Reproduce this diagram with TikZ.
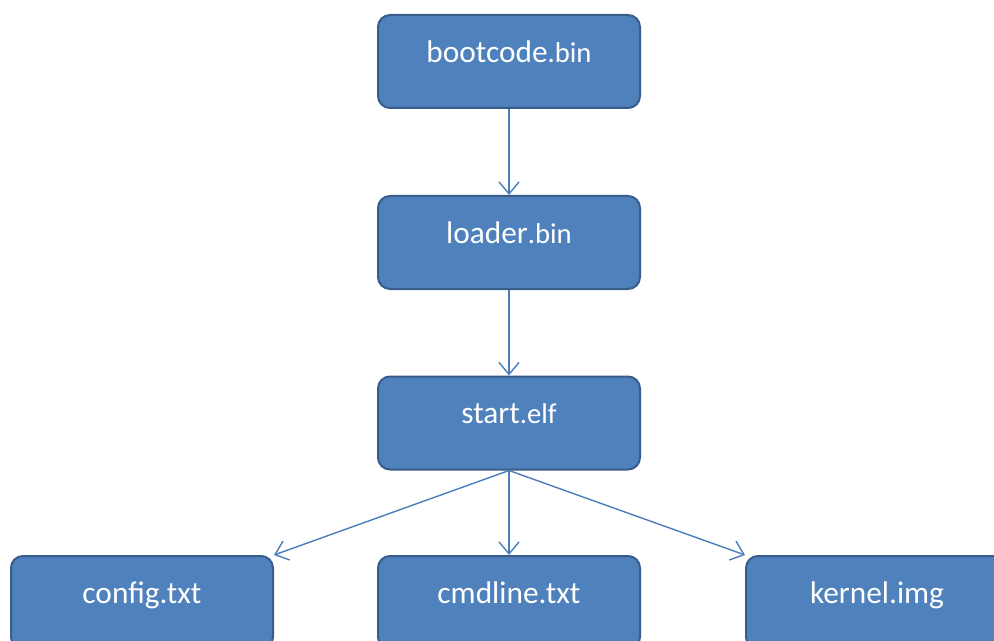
\documentclass[tikz,border=0pt]{standalone}
\usepackage{fontspec}
\setmainfont{Carlito}
\usetikzlibrary{arrows.meta}
\definecolor{boxfill}{HTML}{4F81BD}
\definecolor{boxline}{HTML}{385D8A}
\definecolor{arrowline}{HTML}{4A7EBB}
\newcommand{\ext}[1]{{\fontsize{21.5pt}{25pt}\selectfont #1}}
\tikzset{
  filebox/.style={draw=boxline, fill=boxfill, line width=1.5pt, rounded corners=9pt,
    minimum width=196.5pt, inner sep=0pt, text height=35.5pt, text depth=34.25pt,
    text=white, font=\fontsize{23.5pt}{28pt}\selectfont},
  flow/.style={draw=arrowline, line width=1.05pt,
    -{Straight Barb[length=9pt,width=15pt,line width=1.05pt]}}
}
\begin{document}
\begin{tikzpicture}[x=0.75pt,y=-0.75pt]
  \clip (0,0) rectangle (994,641);
  \fill[white] (0,0) rectangle (994,641);
  \node[filebox] (boot) at (509,61.5) {bootcode\ext{.bin}};
  \node[filebox] (loader) at (509,242.5) {loader\ext{.bin}};
  \node[filebox] (start) at (509,423) {start\ext{.elf}};
  \node[filebox] (config) at (142,602.5) {config.txt};
  \node[filebox] (cmdline) at (509,602.5) {cmdline.txt};
  \node[filebox] (kernel) at (877,602.5) {kernel.img};
  \draw[flow] (boot.south) -- (loader.north);
  \draw[flow] (loader.south) -- (start.north);
  \draw[flow] (start.south) -- (cmdline.north);
  \draw[flow] (start.south) -- (config.north east);
  \draw[flow] (start.south) -- (kernel.north west);
\end{tikzpicture}
\end{document}
